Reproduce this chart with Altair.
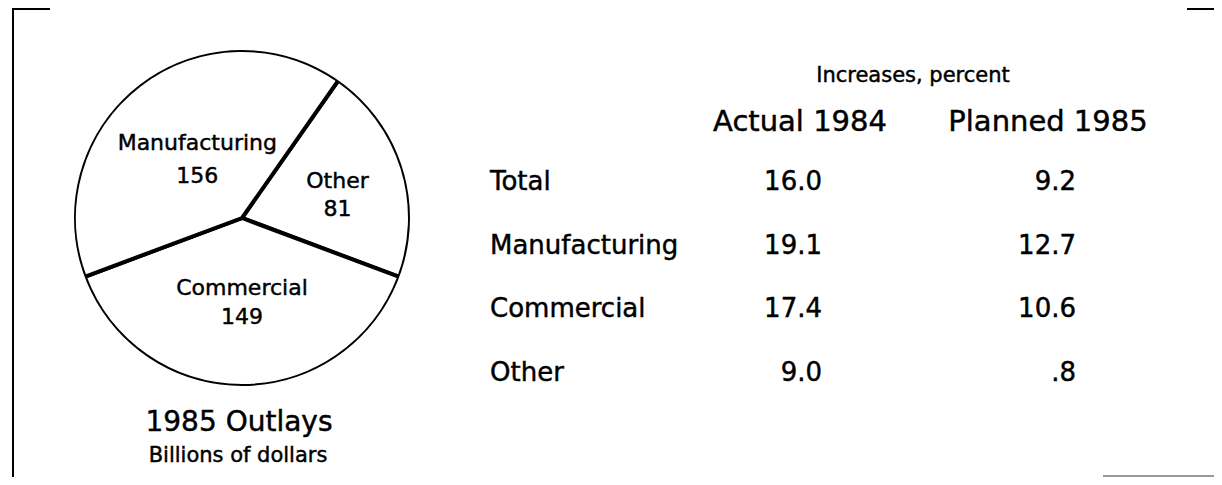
import math
import altair as alt
import pandas as pd

# ---- data ----
sectors = ["Other", "Commercial", "Manufacturing"]
outlays = [81, 149, 156]
rows = ["Total", "Manufacturing", "Commercial", "Other"]
actual_1984 = ["16.0", "19.1", "17.4", "9.0"]
planned_1985 = ["9.2", "12.7", "10.6", ".8"]
columns = ["Actual 1984", "Planned 1985"]

FONT = "DejaVu Sans"
TXT = dict(font=FONT, color="black", stroke="black", strokeWidth=0.45)
total = sum(outlays)
start_angle = math.radians(35)
CX, CY, R = 234, 210, 167

pie = pd.DataFrame({"sector": sectors, "value": outlays})
pie["end"] = pie["value"].cumsum()
pie["start"] = pie["end"] - pie["value"]
pie["mid"] = (pie["start"] + pie["end"]) / 2
pie["label"] = [f"{s}\n{v}" for s, v in zip(sectors, outlays)]

table = pd.DataFrame({
    "row": rows * 2,
    "col": [columns[0]] * len(rows) + [columns[1]] * len(rows),
    "val": actual_1984 + planned_1985,
})
rowdf = pd.DataFrame({"row": rows})

theta_scale = alt.Scale(domain=[0, total], range=[start_angle, start_angle + 2 * math.pi])
y_scale = alt.Scale(type="point", domain=rows, range=[182, 373], padding=0)
x_scale = alt.Scale(type="point", domain=columns, range=[814, 1068], padding=0)

base_pie = alt.Chart(pie)

arcs = base_pie.mark_arc(radius=R + 1, fill="white", stroke="black", strokeWidth=4).encode(
    x=alt.value(CX), y=alt.value(CY),
    theta=alt.Theta("start:Q", scale=theta_scale), theta2="end:Q",
)
ring = alt.Chart(pd.DataFrame({"k": [0]})).mark_arc(
    radius=R + 7, radius2=R + 1, theta=0, theta2=2 * math.pi - 0.0001, fill="white", strokeWidth=0
).encode(x=alt.value(CX), y=alt.value(CY))


def pie_label(sector, radius, line_height, dy):
    return base_pie.transform_filter(alt.datum.sector == sector).mark_text(
        radius=radius, fontSize=22, lineBreak="\n", dy=dy,
        lineHeight=line_height, baseline="middle", align="center", **TXT,
    ).encode(
        x=alt.value(CX), y=alt.value(CY),
        theta=alt.Theta("mid:Q", scale=theta_scale), text="label:N",
    )


lab_m = pie_label("Manufacturing", 73, 33, -17)
lab_o = pie_label("Other", 100, 28, -7)
lab_c = pie_label("Commercial", 84, 29, -14)


def free_text(t, size, x, y):
    return alt.Chart(pd.DataFrame({"t": [t]})).mark_text(
        fontSize=size, align="center", baseline="alphabetic", **TXT
    ).encode(x=alt.value(x), y=alt.value(y), text="t:N")


title1 = free_text("1985 Outlays", 28, 231, 423)
title2 = free_text("Billions of dollars", 21, 230, 454)
inc = free_text("Increases, percent", 21, 905, 74)
hdr_a = free_text(columns[0], 29, 792, 123)
hdr_p = free_text(columns[1], 29, 1040, 123)

row_labels = alt.Chart(rowdf).mark_text(
    fontSize=26, align="left", baseline="alphabetic", **TXT
).encode(x=alt.value(482), y=alt.Y("row:N", scale=y_scale, axis=None), text="row:N")

nums = alt.Chart(table).mark_text(
    fontSize=26, align="right", baseline="alphabetic", **TXT
).encode(
    x=alt.X("col:N", scale=x_scale, axis=None),
    y=alt.Y("row:N", scale=y_scale, axis=None),
    text="val:N",
)

frame_df = pd.DataFrame({"k": [0]})
f_top_left = alt.Chart(frame_df).mark_rule(color="black", strokeWidth=2).encode(
    x=alt.value(4), x2=alt.value(42), y=alt.value(1), y2=alt.value(1))
f_left = alt.Chart(frame_df).mark_rule(color="black", strokeWidth=2).encode(
    x=alt.value(5), x2=alt.value(5), y=alt.value(0), y2=alt.value(469))
f_top_right = alt.Chart(frame_df).mark_rule(color="black", strokeWidth=2).encode(
    x=alt.value(1179), x2=alt.value(1206), y=alt.value(1), y2=alt.value(1))
f_bottom_right = alt.Chart(frame_df).mark_rule(color="#777777", strokeWidth=1.5).encode(
    x=alt.value(1095), x2=alt.value(1206), y=alt.value(468), y2=alt.value(468))

chart = alt.layer(
    arcs, ring, lab_m, lab_o, lab_c, title1, title2, inc, hdr_a, hdr_p,
    row_labels, nums, f_top_left, f_left, f_top_right, f_bottom_right,
).properties(
    width=1206, height=469, padding=0, autosize=alt.AutoSizeParams(type="none"),
    background="white",
).configure_view(stroke=None)

chart.save("out.html", embed_options={"renderer": "svg", "actions": False})
